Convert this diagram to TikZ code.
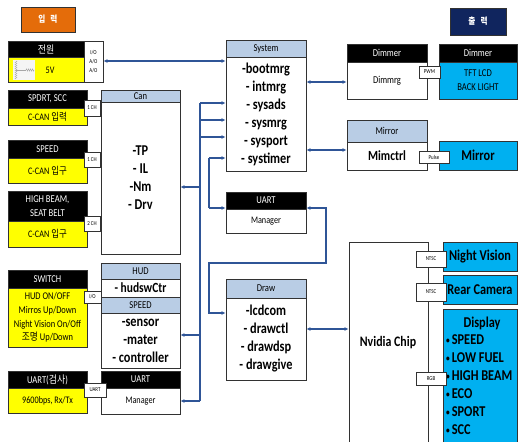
\documentclass[tikz,border=0pt]{standalone}
\usepackage{fontspec}
\setmainfont[FakeStretch=0.82]{Carlito}
\newfontfamily\kr[FakeStretch=0.85]{Noto Sans CJK KR}
\usetikzlibrary{arrows.meta,decorations.pathmorphing}
\definecolor{cOrange}{RGB}{228,108,10}
\definecolor{cNavy}{RGB}{16,37,94}
\definecolor{cYel}{RGB}{255,255,0}
\definecolor{cLblue}{RGB}{185,205,229}
\definecolor{cCyan}{RGB}{0,176,240}
\definecolor{cArr}{RGB}{47,85,151}
\definecolor{cEdge}{RGB}{50,50,50}
\newcommand\hdr{\fontsize{10.5}{12}\selectfont}
\newcommand\bodyf{\fontsize{10}{13.5}\selectfont}
\newcommand\portf{\fontsize{6}{9}\selectfont}
\newcommand\bigf{\fontsize{15}{18}\selectfont\bfseries}
\newcommand\sbul{{\fontsize{9}{9}\selectfont\raisebox{1.5pt}{•}}\hspace{2pt}}
\tikzset{
 box/.style={draw=cEdge,line width=0.9pt,inner sep=0pt,align=center},
 blk/.style={fill=black,text=white,font=\hdr},
 yel/.style={fill=cYel,font=\bodyf},
 lbl/.style={fill=cLblue,font=\hdr},
 wht/.style={fill=white},
 cyn/.style={fill=cCyan},
 port/.style={fill=white,font=\portf},
 arr/.style={draw=cArr,line width=1.3pt,-{Latex[length=4pt,width=4pt]}},
 biarr/.style={draw=cArr,line width=1.3pt,{Latex[length=4pt,width=4pt]}-{Latex[length=4pt,width=4pt]}},
 bus/.style={draw=cArr,line width=1.3pt},
 txt/.style={inner sep=0pt,align=center},
}
\newcommand\mybox[7]{\node[box,#6,minimum width={(#4)-(#2)},minimum height={(#5)-(#3)}] (#1) at ({((#2)+(#4))/2},{((#3)+(#5))/2}) {#7};}
\begin{document}
\begin{tikzpicture}[x=1pt,y=-1pt]
\useasboundingbox (0,0) rectangle (518,441);
\clip (0,0) rectangle (518,441);
% titles
\mybox{tin}{21}{7}{75}{32}{fill=cOrange,text=white,font=\kr\bfseries\fontsize{9}{10}\selectfont}{입\hspace{5pt}력}
\mybox{tout}{450}{8}{506}{35}{fill=cNavy,text=white,font=\kr\bfseries\fontsize{9}{10}\selectfont}{출\hspace{5pt}력}
% power
\mybox{pwH}{8}{41}{84}{57}{blk}{{\kr 전원}}
\mybox{pwB}{8}{57}{84}{82}{yel}{}
\node[txt,font=\bodyf] (pwT) at (50,70) {5V};
\fill[gray!8] (13,60) rectangle (35,80);
\draw[gray!60,decorate,decoration={zigzag,amplitude=1pt,segment length=2pt}] (16,61) -- (16,79);
\draw[gray!70] (16,70) -- (26,70);
\draw[gray!70,decorate,decoration={zigzag,amplitude=1.2pt,segment length=2pt}] (26,70) -- (34,70);
\mybox{pwP}{84}{41}{103}{82}{port}{I/O\\A/O\\A/O}
% SPDRT
\mybox{sH}{8}{90}{87}{108}{blk}{SPDRT, SCC}
\mybox{sB}{8}{108}{87}{125}{yel}{C-CAN {\kr 입력}}
% SPEED in
\mybox{spH}{8}{140}{87}{158}{blk}{SPEED}
\mybox{spB}{8}{158}{87}{183}{yel}{C-CAN {\kr 입구}}
% high beam
\mybox{hbH}{8}{191}{87}{221}{blk,font=\fontsize{10.5}{14}\selectfont}{HIGH BEAM,\\SEAT BELT}
\mybox{hbB}{8}{221}{87}{247}{yel}{C-CAN {\kr 입구}}
% switch
\mybox{swH}{8}{270}{87}{288}{blk}{SWITCH}
\mybox{swB}{8}{288}{87}{347}{yel,font=\fontsize{10.3}{13.8}\selectfont}{HUD ON/OFF\\Mirros Up/Down\\Night Vision On/Off\\{\kr 조명} Up/Down}
% uart in
\mybox{uH}{8}{371}{87}{388}{blk}{UART({\kr 검사})}
\mybox{uB}{8}{388}{87}{413}{yel}{9600bps, Rx/Tx}
% middle-left column
\mybox{canH}{101}{90}{180}{102}{lbl}{Can}
\mybox{canB}{101}{102}{180}{254}{wht,font=\bigf}{-TP\\- IL\\-Nm\\- Drv}
\mybox{hudH}{101}{263}{180}{279}{lbl}{HUD}
\mybox{hudB}{101}{279}{180}{297}{wht,font=\fontsize{14}{16}\selectfont\bfseries}{- hudswCtr}
\mybox{spdH}{101}{297}{180}{313}{lbl}{SPEED}
\mybox{spdB}{101}{313}{180}{368}{wht,font=\bigf}{-sensor\\-mater\\- controller}
\mybox{uaH}{101}{371}{180}{388}{blk}{UART}
\mybox{uaB}{101}{388}{180}{414}{wht,font=\bodyf}{Manager}
% ports left
\mybox{sP}{84}{100}{100}{116}{port}{1 CH}
\mybox{spP}{84}{152}{100}{167}{port}{1 CH}
\mybox{hbP}{84}{216}{100}{231}{port}{2 CH}
\mybox{swP}{84}{291}{101}{303}{port}{I/O}
\mybox{uP}{84}{383}{106}{397}{port}{UART}
% center column
\mybox{sysH}{226}{40}{306}{57}{lbl}{System}
\mybox{sysB}{226}{57}{306}{171}{wht,font=\bigf}{-bootmrg\\- intmrg\\- sysads\\- sysmrg\\- sysport\\- systimer}
\mybox{umH}{226}{192}{306}{209}{blk}{UART}
\mybox{umB}{226}{209}{306}{233}{wht,font=\bodyf}{Manager}
\mybox{drH}{226}{279}{306}{298}{lbl}{Draw}
\mybox{drB}{226}{298}{306}{380}{wht,font=\bigf}{-lcdcom\\- drawctl\\- drawdsp\\- drawgive}
% right: dimmer / mirror
\mybox{dmH}{347}{44}{427}{62}{blk}{Dimmer}
\mybox{dmB}{347}{62}{427}{99}{wht,font=\fontsize{10.5}{12}\selectfont}{Dimmrg}
\mybox{dm2H}{439}{44}{517}{62}{blk}{Dimmer}
\mybox{dm2B}{439}{62}{517}{99}{cyn,font=\fontsize{10.5}{14}\selectfont}{TFT LCD\\BACK LIGHT}
\mybox{pwm}{419}{66}{440}{78}{port}{PWM}
\mybox{miH}{347}{120}{427}{142}{lbl}{Mirror}
\mybox{miB}{347}{142}{427}{170}{wht,font=\fontsize{14}{16}\selectfont\bfseries}{Mimctrl}
\mybox{mi2}{439}{141}{517}{170}{cyn,font=\fontsize{15}{18}\selectfont\bfseries}{Mirror}
\mybox{pulse}{419}{151}{449}{163}{port}{Pulse}
% nvidia + outputs
\mybox{nv}{349}{242}{428}{470}{wht}{}
\node[txt,font=\fontsize{14.5}{16}\selectfont\bfseries] (nvt) at (388,343) {Nvidia Chip};
\mybox{nvis}{443}{242}{517}{271}{cyn,font=\fontsize{15}{18}\selectfont\bfseries}{Night Vision}
\mybox{rc}{443}{275}{517}{304}{cyn,font=\fontsize{15}{18}\selectfont\bfseries}{Rear Camera}
\mybox{disp}{443}{309}{517}{470}{cyn}{}
\node[txt,font=\bigf] (dT) at (482,323) {Display};
\node[txt,font=\bigf,anchor=west] (d1) at (446,340) {\sbul SPEED};
\node[txt,font=\bigf,anchor=west] (d2) at (446,358) {\sbul LOW FUEL};
\node[txt,font=\bigf,anchor=west] (d3) at (446,376) {\sbul HIGH BEAM};
\node[txt,font=\bigf,anchor=west] (d4) at (446,394) {\sbul ECO};
\node[txt,font=\bigf,anchor=west] (d5) at (446,412) {\sbul SPORT};
\node[txt,font=\bigf,anchor=west] (d6) at (446,430) {\sbul SCC};
\mybox{nt1}{416}{251}{446}{267}{port}{NTSC}
\mybox{nt2}{416}{283}{446}{301}{port}{NTSC}
\mybox{rgb}{416}{372}{446}{385}{port}{RGB}
% connectors
\draw[biarr] (pwP.east |- 0,61) -- (sysB.west |- 0,61);
\draw[biarr] (sysB.east |- 0,82) -- (dmB.west |- 0,82);
\draw[biarr] (sysB.east |- 0,150) -- (miB.west |- 0,150);
\coordinate (t1) at (200,103);
\coordinate (t2) at (200,120);
\coordinate (t3) at (200,137);
\coordinate (t4) at (200,187);
\coordinate (t5) at (200,335);
\coordinate (t6) at (200,401);
\draw[bus] (t1) -- (t6);
\draw[arr] (t1) -- (t1 -| sysB.west);
\draw[arr] (t2) -- (t2 -| sysB.west);
\draw[arr] (t3) -- (t3 -| sysB.west);
\draw[arr] (t4) -- (t4 -| canB.east);
\draw[arr] (t5) -- (t5 -| spdB.east);
\draw[arr] (t6) -- (t6 -| uaB.east);
\coordinate (c1) at (209,158);
\coordinate (c2) at (209,208);
\draw[bus] (c1) -- (c2);
\draw[arr] (c1) -- (c1 -| sysB.west);
\draw[arr] (c2) -- (c2 -| umH.west);
\coordinate (k1) at (326,208);
\coordinate (k2) at (326,263);
\coordinate (k3) at (209,263);
\coordinate (k4) at (209,313);
\draw[biarr] (k1 -| umH.east) -- (k1) -- (k2) -- (k3) -- (k4) -- (k4 -| drB.west);
\draw[biarr] (drB.east |- 0,329) -- (nv.west |- 0,329);
\end{tikzpicture}
\end{document}
